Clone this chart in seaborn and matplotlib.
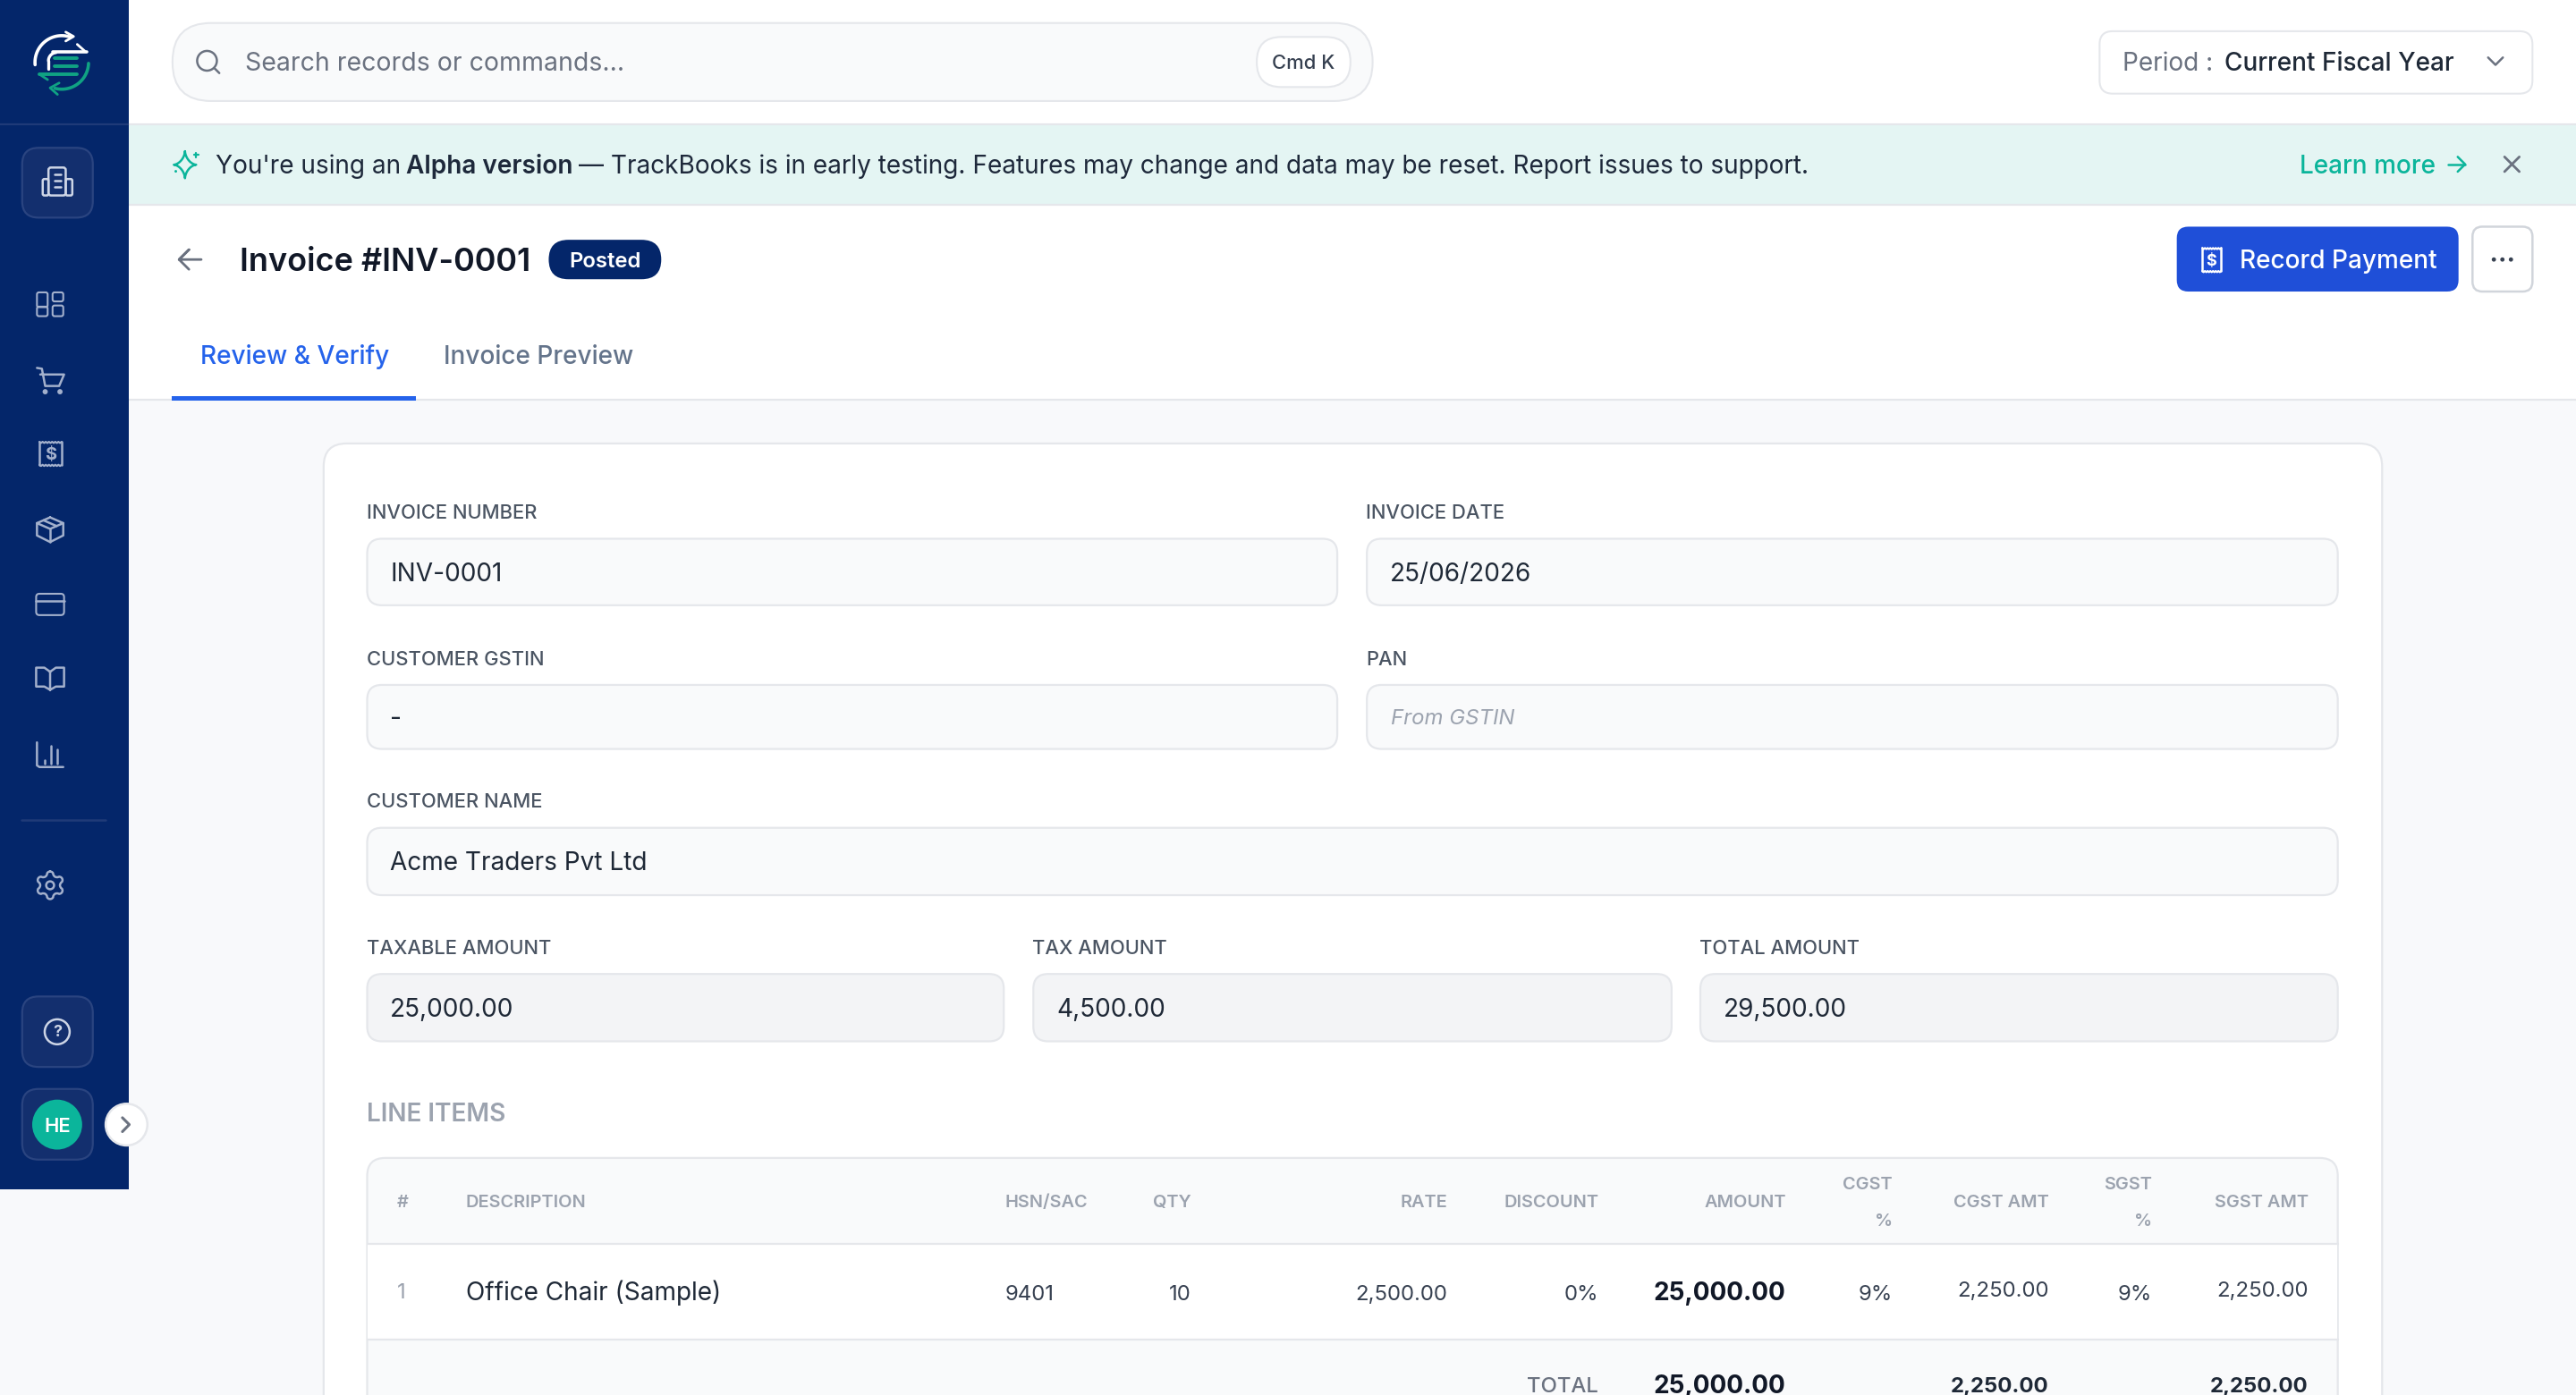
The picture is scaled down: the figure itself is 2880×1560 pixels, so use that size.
import numpy as np
import matplotlib
matplotlib.use("Agg")
import matplotlib.pyplot as plt
from matplotlib.patches import FancyBboxPatch, Circle, Rectangle, Polygon
import seaborn as sns

# ---- content ----
search_text = "Search records or commands..."
period_label = "Period :"
period_value = "Current Fiscal Year"
banner_parts = ["You're using an", "Alpha version",
                "— TrackBooks is in early testing. Features may change and data may be reset. Report issues to support."]
invoice_title = "Invoice #INV-0001"
status = "Posted"
tabs = ["Review & Verify", "Invoice Preview"]
field_labels = ["INVOICE NUMBER", "INVOICE DATE", "CUSTOMER GSTIN", "PAN", "CUSTOMER NAME",
                "TAXABLE AMOUNT", "TAX AMOUNT", "TOTAL AMOUNT"]
field_values = ["INV-0001", "25/06/2026", "-", "From GSTIN", "Acme Traders Pvt Ltd",
                "25,000.00", "4,500.00", "29,500.00"]
table_headers = ["#", "DESCRIPTION", "HSN/SAC", "QTY", "RATE", "DISCOUNT", "AMOUNT",
                 "CGST\n%", "CGST AMT", "SGST\n%", "SGST AMT"]
row_values = ["1", "Office Chair (Sample)", "9401", "10", "2,500.00", "0%", "25,000.00",
              "9%", "2,250.00", "9%", "2,250.00"]
total_values = ["", "", "", "", "", "TOTAL", "25,000.00", "", "2,250.00", "", "2,250.00"]

# ---- palette ----
NAVY = "#04266a"; NAVY2 = "#132f6e"; NAVY3 = "#2a4480"; ICON = "#a3b0cc"
BORDER = "#e5e7eb"; PALE = "#f9fafb"; TEAL = "#0bb59b"; BLUE = "#1f4fd8"; LINK = "#2563eb"
INK = "#111827"; INK2 = "#1f2937"; GREY = "#6b7280"; GREY2 = "#9ca3af"; SLATE = "#64748b"

sns.set_theme(style="white")
plt.rcParams["font.family"] = ["Inter", "DejaVu Sans"]

fig, ax = plt.subplots(figsize=(14.4, 7.8), dpi=200)
ax.set_position([0, 0, 1, 1])
ax.set_xlim(0, 1568)
ax.set_ylim(1560 * 1568 / 2880, 0)
ax.axis("off")
sns.despine(ax=ax, left=True, bottom=True)


def T(x, y, s, css=14, color=INK2, ha="left", weight="normal", style="normal", z=5):
    pt = css * 0.72
    base = y + 0.36 * css * 2 * 1568 / 2880
    return ax.text(x, base, s, fontsize=pt, color=color, ha=ha, va="baseline",
                   fontweight=weight, fontstyle=style, zorder=z)


def R(x0, y0, x1, y1, r=0, fc="white", ec="none", lw=0.75, z=1):
    if r:
        p = FancyBboxPatch((x0, y0), x1 - x0, y1 - y0, boxstyle=f"round,pad=0,rounding_size={r}",
                           fc=fc, ec=ec, lw=lw, zorder=z)
    else:
        p = Rectangle((x0, y0), x1 - x0, y1 - y0, fc=fc, ec=ec, lw=lw, zorder=z)
    ax.add_patch(p)


def L(xs, ys, c=ICON, lw=0.9, z=4):
    ax.plot(xs, ys, color=c, lw=lw, zorder=z, solid_capstyle="round", solid_joinstyle="round")


def A(cx, cy, r, a0, a1, c=ICON, lw=0.9, z=4):
    a = np.radians(np.linspace(a0, a1, 40))
    L(cx + r * np.cos(a), cy - r * np.sin(a), c, lw, z)


def O(cx, cy, r, fc="none", ec=ICON, lw=0.9, z=4):
    ax.add_patch(Circle((cx, cy), r, fc=fc, ec=ec, lw=lw, zorder=z))


def zig(x0, x1, y, n=7, h=0.7):
    xs = np.linspace(x0, x1, 2 * n + 1)
    ys = y + h * (np.arange(2 * n + 1) % 2)
    return xs, ys


# ---- page backgrounds ----
R(0, 0, 1568, 850, fc="#f8f9fb", z=0)
R(78, 0, 1568, 243, fc="white", z=0.2)
R(78, 76, 1568, 124, fc="#e4f5f3", z=0.3)
L([78, 1568], [75.7, 75.7], BORDER, 0.8, 0.5)
L([78, 1568], [124.5, 124.5], BORDER, 0.8, 0.5)
L([78, 1568], [243.5, 243.5], BORDER, 0.8, 0.5)

# ---- sidebar ----
R(0, 0, 78.4, 724, fc=NAVY, z=1)
L([0, 78], [75.7, 75.7], "#1f3a78", 0.8, 2)
L([13, 64], [499, 499], "#1f3a78", 0.9, 2)
R(13.5, 90, 56.5, 132.5, r=10, fc=NAVY2, ec=NAVY3, lw=0.8, z=2)
R(13.5, 606.7, 56.5, 649.6, r=10, fc=NAVY2, ec=NAVY3, lw=0.8, z=2)
R(13.5, 663, 56.5, 706, r=10, fc=NAVY2, ec=NAVY3, lw=0.8, z=2)

# logo
GR = "#10a283"
A(37.6, 38, 16.3, 72, 185, "white", 1.3)
L([40, 44.8, 40], [19.5, 22.2, 25], "white", 1.0)
L([32, 52.8], [31.6, 31.6], "white", 1.3)
L([47, 51.5], [27, 31], "white", 1.0)
A(34.5, 37, 5, 95, 180, "white", 1.2)
L([29.5, 29.5], [37, 42], "white", 1.2)
L([33, 47], [35.4, 35.4], GR, 1.4)
L([33, 47], [40.3, 40.3], GR, 1.4)
L([24, 47], [45.2, 45.2], GR, 1.4)
L([24, 29], [45.2, 48.5], GR, 1.0)
A(37.6, 38, 16.3, -2, -105, GR, 1.3)
L([36, 30.5, 35], [50.5, 53.5, 57.5], GR, 1.0)

# building
c = "#cdd5e6"
R(29.5, 102, 40, 119, r=1.5, fc="none", ec=c, lw=0.9, z=4)
R(26, 109, 29.5, 119, r=1, fc="none", ec=c, lw=0.9, z=4)
R(40, 109, 44, 119, r=1, fc="none", ec=c, lw=0.9, z=4)
for yy in (106, 110, 114):
    L([33, 37], [yy, yy], c, 0.9)

# dashboard
for (x0, y0, x1, y1) in [(22.5, 178, 29, 187), (32, 178, 38.5, 183.5), (22.5, 186.7, 29, 192.5), (32, 186, 38.5, 192.5)]:
    R(x0, y0, x1, y1, r=1.2, fc="none", ec=ICON, z=4)
# cart
L([22.5, 25.5, 27.5, 36, 39, 24.5], [224, 224.5, 235, 235, 228, 228], ICON)
O(27.5, 238.5, 0.9, fc=ICON); O(36.5, 238.5, 0.9, fc=ICON)
# receipt
zx, zy = zig(24, 37.5, 269)
L(zx, zy, ICON, 0.8)
zx, zy = zig(24, 37.5, 283)
L(zx, zy, ICON, 0.8)
L([24, 24], [269, 283], ICON); L([37.5, 37.5], [269, 283], ICON)
T(30.7, 276, "$", 10, ICON, ha="center", weight="bold")
# box
L([30.5, 38.5, 38.5, 30.5, 22.5, 22.5, 30.5], [315, 318.5, 326, 330, 326, 318.5, 315], ICON)
L([22.5, 30.5, 38.5], [318.5, 322, 318.5], ICON)
L([30.5, 30.5], [322, 330], ICON)
L([26.5, 34.5], [316.8, 320.3], ICON)
# card
R(22, 361.5, 39, 374.5, r=2, fc="none", ec=ICON, z=4)
L([22, 39], [366, 366], ICON)
# book
L([30.5, 27, 22, 22, 27, 30.5, 34, 39, 39, 34, 30.5, 30.5],
  [409, 406.5, 406.5, 418, 418, 420, 418, 418, 406.5, 406.5, 409, 420], ICON)
# chart
L([22.5, 22.5, 24, 38.5], [452, 466, 467, 467], ICON)
L([27.3, 27.3], [463, 465], ICON); L([31, 31], [454, 465], ICON); L([35, 35], [456, 465], ICON)
# gear
O(30.5, 539, 2.4)
th = np.radians(np.arange(0, 361, 2))
rad = 7.2 + 1.2 * np.sign(np.cos(6 * th)) * np.abs(np.cos(6 * th)) ** 0.6
L(30.5 + rad * np.sin(th), 539 - rad * np.cos(th), ICON)
# help
O(34.8, 628.2, 7.6, ec="#cdd5e6")
T(34.8, 627.7, "?", 9, "#cdd5e6", ha="center", weight="bold")
# avatar
O(34.8, 684.7, 15.2, fc=TEAL, ec="none")
T(34.8, 684.7, "HE", 11, "white", ha="center", weight="semibold")
O(77, 684.7, 12.7, fc="white", ec=BORDER, lw=0.9, z=6)
L([74.5, 78.7, 74.5], [680.5, 684.7, 689], GREY, 1.1, 7)

# ---- top bar ----
R(105, 14, 835.5, 61.5, r=23.5, fc=PALE, ec=BORDER)
O(126, 37, 6, ec=GREY, lw=0.9)
L([130.5, 133.5], [41.5, 44.5], GREY, 0.9)
T(149, 37.5, search_text, 14.2, GREY)
R(765, 22.5, 822, 53, r=15, fc="white", ec=BORDER)
T(793.5, 37.5, "Cmd K", 11, "#374151", ha="center", weight="medium")
R(1278, 19, 1541.5, 57, r=8, fc="white", ec=BORDER)
T(1292, 37.5, period_label, 14, GREY)
T(1354, 37.5, period_value, 14, INK2, weight="medium")
L([1514.5, 1519, 1523.5], [35, 39.5, 35], GREY, 0.9)

# ---- banner ----
s = np.radians(np.arange(0, 361, 2))
L(112.6 + 6.8 * np.sign(np.sin(s)) * np.abs(np.sin(s)) ** 3.2,
  100.3 - 8.2 * np.sign(np.cos(s)) * np.abs(np.cos(s)) ** 3.2, TEAL, 0.9)
L([118, 120.6], [94.3, 94.3], TEAL, 0.8); L([119.3, 119.3], [93, 95.6], TEAL, 0.8)
O(107, 104.3, 0.8, fc=TEAL, ec="none")
T(131, 100, banner_parts[0], 14, "#1e293b")
T(247, 100, banner_parts[1], 14, "#1e293b", weight="semibold")
T(352, 100, banner_parts[2], 14, "#1e293b")
T(1400, 100, "Learn more", 14, TEAL, weight="medium")
L([1490, 1500.5], [100, 100], TEAL, 0.9); L([1496, 1500.5, 1496], [95.5, 100, 104.5], TEAL, 0.9)
L([1524.5, 1533.5], [95.5, 104.5], GREY, 1.0); L([1524.5, 1533.5], [104.5, 95.5], GREY, 1.0)

# ---- title strip ----
L([122.5, 109, 115, 109, 115], [158, 158, 152, 158, 164], GREY, 1.0)
T(146, 158, invoice_title, 18, INK, weight="semibold")
R(334, 146, 402.5, 170, r=12, fc=NAVY, z=2)
T(368.3, 158, status, 12, "white", ha="center", weight="semibold")
R(1325, 138, 1496.5, 177.5, r=7, fc=BLUE, z=2)
zx, zy = zig(1340.5, 1352, 151)
L(zx, zy, "white", 0.8)
zx, zy = zig(1340.5, 1352, 165)
L(zx, zy, "white", 0.8)
L([1340.5, 1340.5], [151, 165], "white"); L([1352, 1352], [151, 165], "white")
T(1346.2, 158, "$", 9, "white", ha="center", weight="bold")
T(1363.5, 158, "Record Payment", 14, "white", weight="medium")
R(1505, 138, 1541.5, 177.5, r=6, fc="white", ec="#d1d5db", lw=0.9)
for dx in (1518, 1523.2, 1528.4):
    O(dx, 158, 1.3, fc="#374151", ec="none")
T(122, 216, tabs[0], 14, LINK, weight="medium")
T(270, 216, tabs[1], 14, SLATE, weight="medium")
R(104.5, 241, 253, 243.7, fc=LINK, z=3)

# ---- card ----
R(197, 270, 1450, 900, r=14, fc="white", ec=BORDER, lw=0.8)

field_boxes = [(223.5, 328, 814, 368.5), (832, 328, 1423, 368.5), (223.5, 417, 814, 456), (832, 417, 1423, 456),
               (223.5, 504, 1423, 545), (223.5, 593, 611, 634), (629, 593, 1017.5, 634), (1035, 593, 1423, 634)]
for i, (lab, val, b) in enumerate(zip(field_labels, field_values, field_boxes)):
    T(b[0] - 0.5, b[1] - 16.5, lab, 11, "#4b5563", weight="medium")
    R(b[0], b[1], b[2], b[3], r=9, fc="#f3f4f6" if i >= 5 else PALE, ec=BORDER, lw=0.8, z=2)
    if val == "From GSTIN":
        T(b[0] + 14.5, (b[1] + b[3]) / 2, val, 12, GREY2, style="italic")
    else:
        T(b[0] + 14, (b[1] + b[3]) / 2, val, 14, INK2)

T(223, 677.5, "LINE ITEMS", 14, GREY2, weight="semibold")

# ---- table ----
R(223.5, 705, 1423, 900, r=11, fc=PALE, ec=BORDER, lw=0.8, z=2)
R(224, 757.5, 1422.5, 815.5, fc="white", z=2.5)
L([223.5, 1423], [757.5, 757.5], BORDER, 0.8, 3)
L([223.5, 1423], [815.5, 815.5], BORDER, 0.8, 3)

col_x = [241.5, 283.5, 611.5, 725, 881, 973, 1087, 1152, 1247, 1310, 1405]
col_ha = ["left", "left", "left", "right", "right", "right", "right", "right", "right", "right", "right"]
for x, ha, h, v, t in zip(col_x, col_ha, table_headers, row_values, total_values):
    parts = h.split("\n")
    if len(parts) == 2:
        T(x, 720, parts[0], 10, GREY2, ha=ha, weight="semibold")
        T(x, 742.5, parts[1], 10, GREY2, ha=ha, weight="semibold")
    else:
        T(x, 731, h, 10, GREY2, ha=ha, weight="semibold")
    if v == "1":
        T(x, 786, v, 12, GREY2, ha=ha)
    elif h == "DESCRIPTION":
        T(x, 786, v, 14, INK2, ha=ha)
    elif h == "AMOUNT":
        T(x, 786, v, 14, INK, ha=ha, weight="bold")
    elif h in ("CGST AMT", "SGST AMT"):
        T(x, 785, v, 12, "#374151", ha=ha)
    else:
        T(x, 787, v, 12, "#374151", ha=ha)
    if t == "TOTAL":
        T(x, 843, t, 12, GREY, ha=ha, weight="medium")
    elif t:
        T(x, 843, t, 14 if h == "AMOUNT" else 12, INK if h == "AMOUNT" else INK2, ha=ha, weight="bold")

fig.savefig("out.png", dpi=200)
